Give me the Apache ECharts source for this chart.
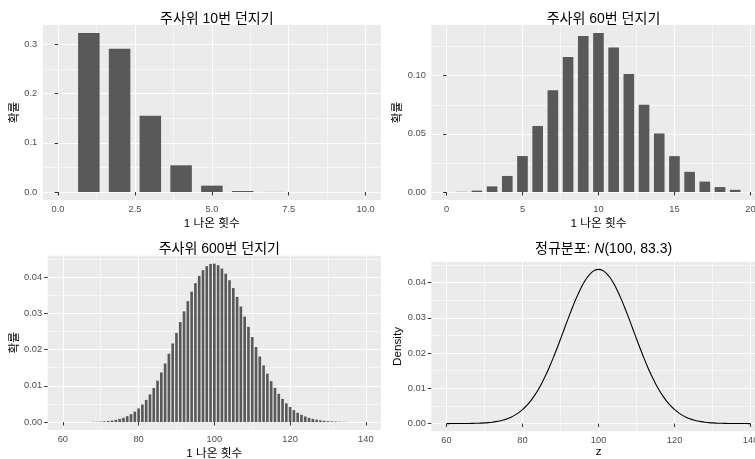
<!DOCTYPE html>
<html><head><meta charset="utf-8">
<script src="https://cdn.jsdelivr.net/npm/echarts@6/dist/echarts.min.js"></script>
<style>html,body{margin:0;padding:0;background:#fff}#c{width:755px;height:459px}</style>
</head><body><div id="c"></div>
<script>
// ---- data ----
const x10 = [1,2,3,4,5,6,7,8,9,10];
const p10 = [0.32301,0.29071,0.15505,0.054266,0.013024,0.0021706,0.000248,0.0000186,0.00000083,0.0000000165];

const x60 = [1,2,3,4,5,6,7,8,9,10,11,12,13,14,15,16,17,18,19];
const p60 = [0.000212,0.001254,0.004848,0.013817,0.03095,0.05674,0.08754,0.11599,0.13403,0.13671,0.12428,0.10150,0.07495,0.05032,0.03087,0.01736,0.008988,0.004294,0.001898];

const x600 = [68,69,70,71,72,73,74,75,76,77,78,79,80,81,82,83,84,85,86,87,88,89,90,91,92,93,94,95,96,97,98,99,100,101,102,103,104,105,106,107,108,109,110,111,112,113,114,115,116,117,118,119,120,121,122,123,124,125,126,127,128,129,130,131,132,133,134,135];
const p600 = [0.0000586,0.0000903,0.000137,0.000204,0.000300,0.000435,0.000619,0.000868,0.001199,0.001632,0.002188,0.002891,0.003766,0.004835,0.006121,0.007640,0.009404,0.011417,0.013674,0.016157,0.018838,0.021674,0.024611,0.027586,0.030524,0.033347,0.035972,0.038319,0.040315,0.041894,0.043005,0.043613,0.043700,0.043267,0.042334,0.040937,0.039126,0.036965,0.034524,0.031878,0.029103,0.026273,0.023455,0.020708,0.018083,0.015619,0.013345,0.011279,0.009432,0.007804,0.006389,0.005176,0.004149,0.003292,0.002585,0.002009,0.001546,0.001177,0.000888,0.000663,0.000490,0.000358,0.000260,0.000186,0.000133,0.0000933,0.0000650,0.0000449];

const zVals = [60,61,62,63,64,65,66,67,68,69,70,71,72,73,74,75,76,77,78,79,80,81,82,83,84,85,86,87,88,89,90,91,92,93,94,95,96,97,98,99,100,101,102,103,104,105,106,107,108,109,110,111,112,113,114,115,116,117,118,119,120,121,122,123,124,125,126,127,128,129,130,131,132,133,134,135,136,137,138,139,140];
const densVals = [0.0000030,0.0000047,0.0000075,0.0000118,0.0000183,0.0000280,0.0000424,0.0000634,0.0000936,0.0001366,0.000197,0.000281,0.000395,0.000550,0.000756,0.001026,0.001377,0.001826,0.002393,0.003097,0.003962,0.005007,0.006252,0.007713,0.009403,0.011326,0.013479,0.015851,0.018417,0.021143,0.023983,0.026881,0.029770,0.032573,0.035217,0.037620,0.039708,0.041412,0.042674,0.043449,0.043710,0.043449,0.042674,0.041412,0.039708,0.037620,0.035217,0.032573,0.029770,0.026881,0.023983,0.021143,0.018417,0.015851,0.013479,0.011326,0.009403,0.007713,0.006252,0.005007,0.003962,0.003097,0.002393,0.001826,0.001377,0.001026,0.000756,0.000550,0.000395,0.000281,0.000197,0.0001366,0.0000936,0.0000634,0.0000424,0.0000280,0.0000183,0.0000118,0.0000075,0.0000047,0.0000030];

const titles = ['주사위 10번 던지기','주사위 60번 던지기','주사위 600번 던지기','정규분포: {i|N}(100, 83.3)'];
const xNames = ['1 나온 횟수','1 나온 횟수','1 나온 횟수','z'];
const yNames = ['확률','확률','확률','Density'];

const xMajor = [[0,2.5,5,7.5,10],[0,5,10,15,20],[60,80,100,120,140],[60,80,100,120,140]];
const xMinor = [[1.25,3.75,6.25,8.75],[2.5,7.5,12.5,17.5],[70,90,110,130],[70,90,110,130]];
const yMajor = [[0,0.1,0.2,0.3],[0,0.05,0.10],[0,0.01,0.02,0.03,0.04],[0,0.01,0.02,0.03,0.04]];
const yMinor = [[0.05,0.15,0.25],[0.025,0.075,0.125],[0.005,0.015,0.025,0.035,0.045],[0.005,0.015,0.025,0.035,0.045]];
const xDigits = [1,0,0,0];
const yDigits = [1,2,2,2];

// ---- layout ----
const FONT = "'Liberation Sans','Noto Sans CJK KR',sans-serif";
const grids = [
  {left:42.7, top:25, width:338.3, height:175},
  {left:431.3, top:25, width:334.3, height:175},
  {left:47.7, top:255.7, width:333.3, height:174.3},
  {left:431.3, top:261.7, width:334.5, height:169.6}
];
const xExt = [[-0.5,10.5],[-1,21],[56,144],[56,144]];
const yMaxData = [Math.max(...p10), Math.max(...p60), Math.max(...p600), Math.max(...densVals)];
const titlePos = [[211.8,7.5],[598.5,7.5],[214.3,237.5],[598.6,237.5]];
const yNameGap = [22.5,20.5,26.5,25];
const xNameGap = [17.5,17.5,17.5,15];

const options = {
  animation:false,
  backgroundColor:'#fff',
  title: titles.map((t,i)=>({
    text:t, left:titlePos[i][0], top:titlePos[i][1], textAlign:'center',
    textStyle:{fontFamily:FONT, fontSize:14, fontWeight:'normal', color:'#000',
      rich:{i:{fontFamily:FONT, fontSize:14, fontStyle:'italic', color:'#000'}}}
  })),
  grid: grids.map(g=>Object.assign({show:true, backgroundColor:'#EBEBEB', borderWidth:0, containLabel:false, outerBoundsMode:'none'}, g)),
  xAxis: [], yAxis: [], series: []
};

for (let i=0;i<4;i++){
  const ymin = -yMaxData[i]*0.05, ymax = yMaxData[i]*1.05;
  options.xAxis.push({
    type:'value', gridIndex:i, min:xExt[i][0], max:xExt[i][1], position:'bottom',
    name:xNames[i], nameLocation:'middle', nameGap:xNameGap[i],
    nameTextStyle:{fontFamily:FONT, fontSize:11.7, color:'#000'},
    axisLine:{show:false},
    axisTick:{show:true, length:3.5, lineStyle:{color:'#333', width:1}, customValues:xMajor[i]},
    axisLabel:{show:true, margin:4.5, fontFamily:FONT, fontSize:9.3, color:'#4D4D4D', customValues:xMajor[i],
      formatter:v=>v.toFixed(xDigits[i])},
    splitLine:{show:true, lineStyle:{color:'#fff', width:1.1}}
  });
  options.xAxis.push({
    type:'value', gridIndex:i, min:xExt[i][0], max:xExt[i][1], position:'top',
    axisLine:{show:false}, axisTick:{show:false, customValues:xMinor[i]}, axisLabel:{show:false, customValues:xMinor[i]},
    splitLine:{show:true, lineStyle:{color:'#fff', width:0.55}}
  });
  options.yAxis.push({
    type:'value', gridIndex:i, min:ymin, max:ymax, position:'left',
    name:yNames[i], nameLocation:'middle', nameGap:yNameGap[i], nameRotate:90,
    nameTextStyle:{fontFamily:FONT, fontSize:11.7, color:'#000'},
    axisLine:{show:false},
    axisTick:{show:true, length:3.5, lineStyle:{color:'#333', width:1}, customValues:yMajor[i]},
    axisLabel:{show:true, margin:5.5, fontFamily:FONT, fontSize:9.3, color:'#4D4D4D', customValues:yMajor[i],
      formatter:v=>v.toFixed(yDigits[i])},
    splitLine:{show:true, lineStyle:{color:'#fff', width:1.1}}
  });
  options.yAxis.push({
    type:'value', gridIndex:i, min:ymin, max:ymax, position:'right',
    axisLine:{show:false}, axisTick:{show:false, customValues:yMinor[i]}, axisLabel:{show:false, customValues:yMinor[i]},
    splitLine:{show:true, lineStyle:{color:'#fff', width:0.55}}
  });
}

function barRender(params, api){
  const x = api.value(0), y = api.value(1);
  const p0 = api.coord([x-0.35, 0]);
  const p1 = api.coord([x+0.35, y]);
  return {type:'rect', shape:{x:p0[0], y:p1[1], width:p1[0]-p0[0], height:p0[1]-p1[1]},
    style:{fill:'#595959'}};
}
const barSets = [[x10,p10],[x60,p60],[x600,p600]];
barSets.forEach((s,i)=>{
  options.series.push({
    type:'custom', xAxisIndex:2*i, yAxisIndex:2*i, renderItem:barRender,
    data:s[0].map((x,j)=>[x, s[1][j]]), encode:{x:0,y:1}, silent:true
  });
});
options.series.push({
  type:'line', xAxisIndex:6, yAxisIndex:6, showSymbol:false, smooth:0.3,
  lineStyle:{color:'#000', width:1.1}, data:zVals.map((z,j)=>[z, densVals[j]]), silent:true
});

const chart = echarts.init(document.getElementById('c'), null, {renderer:'canvas'});
chart.setOption(options);
</script></body></html>
